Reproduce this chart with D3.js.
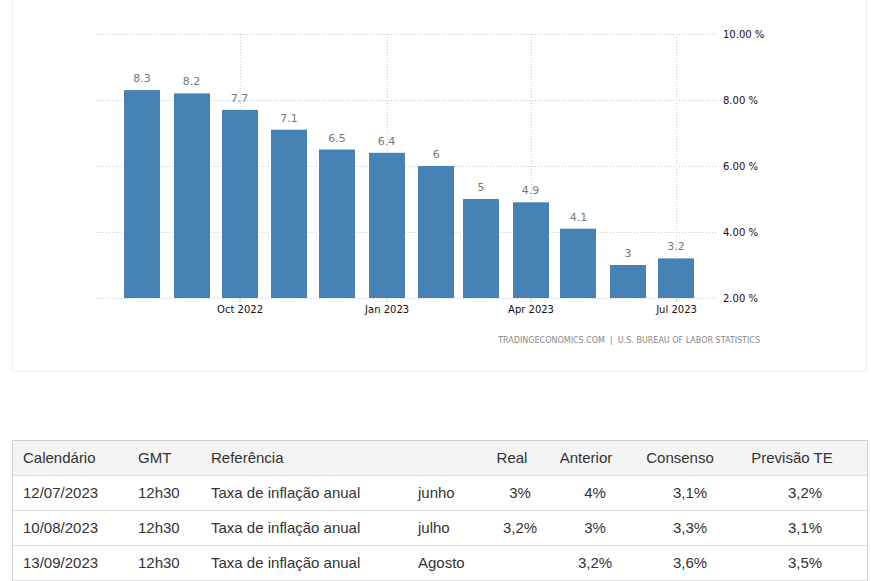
<!DOCTYPE html>
<html>
<head>
<meta charset="utf-8">
<script src="https://cdn.jsdelivr.net/npm/d3@7"></script>
<style>
  body { margin: 0; background: #fff; }
  svg { display: block; }
  .source { white-space: pre; }
</style>
</head>
<body>
<svg id="page" width="871" height="581"></svg>
<script>
// inflation data, monthly (yoy %)
var months = ['2022-08', '2022-09', '2022-10', '2022-11', '2022-12', '2023-01',
              '2023-02', '2023-03', '2023-04', '2023-05', '2023-06', '2023-07'];
var values = [8.3, 8.2, 7.7, 7.1, 6.5, 6.4, 6, 5, 4.9, 4.1, 3, 3.2];
var yTicks = [2, 4, 6, 8, 10];
var xTicks = ['2022-10', '2023-01', '2023-04', '2023-07'];
var sourceText = 'TRADINGECONOMICS.COM  |  U.S. BUREAU OF LABOR STATISTICS';

// calendar table
var tableHeader = ['Calendário', 'GMT', 'Referência', '', 'Real', 'Anterior', 'Consenso', 'Previsão TE'];
var tableRows = [
	['12/07/2023', '12h30', 'Taxa de inflação anual', 'junho', '3%', '4%', '3,1%', '3,2%'],
	['10/08/2023', '12h30', 'Taxa de inflação anual', 'julho', '3,2%', '3%', '3,3%', '3,1%'],
	['13/09/2023', '12h30', 'Taxa de inflação anual', 'Agosto', '', '3,2%', '3,6%', '3,5%']
];

var parseMonth = d3.timeParse('%Y-%m');
var fmtTick = d3.timeFormat('%b %Y');

var svg = d3.select('#page');

// panel box (top edge is off screen)
svg.append('path')
	.attr('d', 'M12.5,0 V371.5 H866.5 V0')
	.attr('fill', 'none')
	.attr('stroke', '#eeeeee');

// scales
var x = d3.scaleTime()
	.domain([parseMonth(months[0]), parseMonth(months[months.length - 1])])
	.range([142, 676]);
var y = d3.scaleLinear().domain([2, 10]).range([298, 34]);

var plotLeft = 97, plotRight = 718, barW = 36;

// horizontal grid
svg.append('g').selectAll('line')
	.data(yTicks)
	.enter().append('line')
	.attr('x1', plotLeft).attr('x2', plotRight)
	.attr('y1', function(d) { return Math.round(y(d)) + 0.5; })
	.attr('y2', function(d) { return Math.round(y(d)) + 0.5; })
	.attr('stroke', '#c8c8c8')
	.attr('stroke-dasharray', '1,2');

// vertical grid at the month ticks
svg.append('g').selectAll('line')
	.data(xTicks)
	.enter().append('line')
	.attr('x1', function(d) { return Math.round(x(parseMonth(d))) + 0.5; })
	.attr('x2', function(d) { return Math.round(x(parseMonth(d))) + 0.5; })
	.attr('y1', y(10)).attr('y2', y(2))
	.attr('stroke', '#c8c8c8')
	.attr('stroke-dasharray', '1,2');

// bars
svg.append('g').selectAll('rect')
	.data(values)
	.enter().append('rect')
	.attr('x', function(d, i) { return Math.round(x(parseMonth(months[i])) - barW / 2); })
	.attr('y', function(d) { return y(d); })
	.attr('width', barW)
	.attr('height', function(d) { return y(2) - y(d); })
	.attr('fill', '#4682b4');

// value labels
svg.append('g').selectAll('text')
	.data(values)
	.enter().append('text')
	.attr('x', function(d, i) { return x(parseMonth(months[i])); })
	.attr('y', function(d) { return y(d) - 8; })
	.attr('text-anchor', 'middle')
	.attr('font-family', 'DejaVu Sans, sans-serif')
	.attr('font-size', '11px')
	.attr('fill', '#777777')
	.text(function(d) { return String(d); });

// y axis labels on the right
var yAxis = d3.axisRight(y)
	.tickValues(yTicks)
	.tickSize(0)
	.tickPadding(0)
	.tickFormat(function(d) { return d.toFixed(2) + ' %'; });
var gy = svg.append('g').attr('transform', 'translate(723,0)').call(yAxis);
gy.select('.domain').remove();
gy.selectAll('text')
	.attr('font-family', 'DejaVu Sans, sans-serif')
	.attr('font-size', '10px')
	.attr('fill', '#1a0a2a');

// x axis
var xAxis = d3.axisBottom(x)
	.tickValues(xTicks.map(parseMonth))
	.tickSize(4)
	.tickPadding(4)
	.tickFormat(fmtTick);
var gx = svg.append('g').attr('transform', 'translate(0,298)').call(xAxis);
gx.select('.domain').remove();
gx.selectAll('line').attr('stroke', '#c8c8c8');
gx.selectAll('text')
	.attr('font-family', 'DejaVu Sans, sans-serif')
	.attr('font-size', '10px')
	.attr('fill', '#111111');

// source
svg.append('text')
	.attr('class', 'source')
	.attr('x', 760).attr('y', 343)
	.attr('text-anchor', 'end')
	.attr('font-family', 'DejaVu Sans, sans-serif')
	.attr('font-size', '8px')
	.attr('fill', '#888888')
	.text(sourceText);

// table
var tableTop = 440, rowH = 35, tableLeft = 12, tableRight = 867;
var colX = [23, 138, 211, 418, 520, 595, 690, 805];
var headX = [23, 138, 211, 418, 512, 586, 680, 792];
var colAnchor = ['start', 'start', 'start', 'start', 'middle', 'middle', 'middle', 'middle'];

var tbl = svg.append('g').attr('font-family', 'Liberation Sans, Arial, sans-serif')
	.attr('font-size', '15px').attr('fill', '#333333');

tbl.append('rect')
	.attr('x', tableLeft + 0.5).attr('y', tableTop + 0.5)
	.attr('width', tableRight - tableLeft).attr('height', rowH)
	.attr('fill', '#f4f4f4');

tbl.selectAll('line.row')
	.data(d3.range(tableRows.length + 1))
	.enter().append('line')
	.attr('class', 'row')
	.attr('x1', tableLeft).attr('x2', tableRight)
	.attr('y1', function(d) { return tableTop + rowH * (d + 1) + 0.5; })
	.attr('y2', function(d) { return tableTop + rowH * (d + 1) + 0.5; })
	.attr('stroke', '#dddddd');

tbl.append('path')
	.attr('d', 'M' + (tableLeft + 0.5) + ',581 V' + (tableTop + 0.5) + ' H' + (tableRight + 0.5) + ' V581')
	.attr('fill', 'none')
	.attr('stroke', '#d0d0d0');

tbl.selectAll('text.head')
	.data(tableHeader)
	.enter().append('text')
	.attr('class', 'head')
	.attr('x', function(d, i) { return headX[i]; })
	.attr('y', tableTop + rowH / 2 + 5)
	.attr('text-anchor', function(d, i) { return colAnchor[i]; })
	.text(function(d) { return d; });

tableRows.forEach(function(row, r) {
	tbl.selectAll('text.r' + r)
		.data(row)
		.enter().append('text')
		.attr('class', 'r' + r)
		.attr('x', function(d, i) { return colX[i]; })
		.attr('y', tableTop + rowH * (r + 1) + rowH / 2 + 5)
		.attr('text-anchor', function(d, i) { return colAnchor[i]; })
		.text(function(d) { return d; });
});
</script>
</body>
</html>
